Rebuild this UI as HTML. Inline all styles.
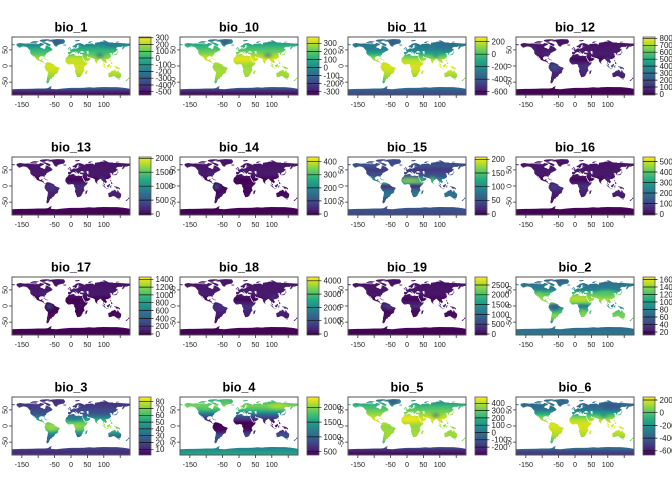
<!DOCTYPE html>
<html><head><meta charset="utf-8"><style>
html,body{margin:0;padding:0;background:#fff}
svg{display:block}
.t{font:bold 12.6px "Liberation Sans",sans-serif;text-anchor:middle;fill:#000}
.ax{font:7.2px "Liberation Sans",sans-serif;text-anchor:middle;fill:#222}
.lg{font:8px "Liberation Sans",sans-serif;fill:#222}
.bx{fill:none;stroke:#555;stroke-width:1}
.tk{stroke:#333;stroke-width:.8;fill:none}
.lb{fill:url(#vir);stroke:#555;stroke-width:.8}
.lt{stroke:#111;stroke-width:.7;fill:none}
</style></head><body>
<svg width="672" height="480" viewBox="0 0 672 480" xmlns="http://www.w3.org/2000/svg">
<defs>
<path id="land" fill-rule="evenodd" clip-rule="evenodd" d="
M-166,68.5 -156,71.3 -141,69.6 -128,70.2 -115,68 -98,68 -94,71.5 -85,69.5 -82,66 -88,64 -94,60 -93,57 -87,55.5 -82,52.5 -79,54.5 -77,60 -78,62.5 -72,62 -65,60 -61,56 -56,52 -60,47 -66,44.5 -70,42 -74,40.5 -76,37 -76,35 -81,31.5 -80.5,25.5 -82.5,28 -84,30 -89,30.2 -94,29.6 -97.5,26 -97.5,22 -95,18.6 -91,19 -90.5,21 -87,21.5 -88,16 -84,15.5 -83.5,11 -81.5,9 -79,9.5 -77.8,8.8 -78.5,8 -80,7.5 -85,10 -87.5,13 -92,14.5 -96,15.7 -105,19.5 -105.5,22.5 -109.5,26.5 -112.8,31.5 -114.5,30 -110,23 -112,24.5 -115,29.5 -117,32.5 -120.5,34.5 -123.8,39 -124.5,43 -124,46.5 -124.7,48.4 -127,50 -130,54 -134,58 -140,60 -146,61 -152,59 -156,57.5 -163,54.5 -158,58 -162,60 -165,62.5 -166,65Z
M-73,78 -60,82 -40,83.5 -22,82.5 -18,77 -21,70 -32,68 -40,65 -43,60 -48,61 -52,65 -54,70 -58,75.5 -68,76.5Z
M-88,73.5 -80,73.7 -72,71 -67,69 -62,66.5 -64,63 -66,62 -72,63.5 -78,64.5 -74,66.5 -80,69.5 -86,71Z
M-125,72.5 -120,74.5 -115,73.8 -105,73.2 -101,70.5 -108,69.3 -117,70 -123,71Z
M-120,76 -110,77.5 -100,76.5 -96,75.2 -106,75 -116,75Z
M-92,75.8 -82,75 -78,76.5 -75,78.5 -65,81 -64,82.3 -75,83 -90,82 -96,79Z
M-24,65.5 -22,66.5 -15,66.5 -13.5,65 -18,63.4 -22.5,63.8Z
M-77.3,8.5 -72,12 -64,10.5 -60,8.5 -52,5 -50,1 -44,-2.5 -35,-5.5 -35,-9 -39,-13.5 -39,-18 -41,-22 -45,-23.5 -48.5,-26 -53,-33.5 -58,-34.5 -57,-38 -62,-39 -65,-41 -63.5,-42.5 -65.5,-45 -67.5,-46.5 -66,-48 -69,-51 -68.5,-52.5 -71,-54 -74.5,-52.5 -75,-48 -73.5,-44 -73.5,-37 -71.5,-30 -70.3,-18.5 -76,-14 -79.5,-7 -81,-4.5 -80,-2 -80,1 -78.5,3 -77.5,6.5Z
M-6,35.8 -2,35.1 3,36.8 10,37.2 11,35.5 10,34.2 11,33.2 15,32.3 19.8,30.5 20,32 23,32.6 25,31.8 29,30.9 32.5,31.3 34,29.5 33.5,27 35.5,23.5 37.2,21 38.5,18 39.5,15.5 42.5,12.5 43.5,11.5 44,10.5 51,11.9 51.2,10.4 48,4.5 44,1 41,-2 39.4,-5 39,-8.5 40.5,-10.5 40.8,-15 36.8,-18.5 35.2,-21.5 35.5,-24 32.6,-26 32.5,-29 30,-31.5 27.5,-33.2 25,-34 22,-34.2 20,-34.8 18.3,-34 18,-31.5 16.5,-28.6 15.2,-27 14.5,-22.5 11.8,-17.3 12,-13.5 13.6,-11 13,-8.5 12,-6 12.2,-5 9.5,-2 9.5,1 9.8,3.5 8.5,4.5 6,4.3 4.5,6.3 2,6.3 -2,4.8 -4,5.2 -7.5,4.4 -9,5 -11.5,6.9 -13.2,8.8 -15,10.9 -17.2,14.7 -16.5,19.5 -17,21 -14.8,25.5 -13,27.7 -9.7,30 -9.5,32.5 -6.8,34Z
M49.3,-12 50.5,-15.5 49.5,-17 48,-22 47,-25 45,-25.5 43.5,-22 44.3,-20 44,-17 46,-15.7 48,-13.5Z
M-9,43 -9,37 -5.5,36 -2,36.7 0,38.5 3,42 6,43 9,44 12,42 16,38 16.5,40.5 18.5,40 15,41.9 12.5,44.5 13.5,45.5 15,45 19.5,41.5 21,38 23,36.5 24,40 26,41 29,41.2 26.5,38.5 28,36.8 36,36.5 35.5,33 34.5,31.5 34.8,29.5 35,28 38.5,22 42.5,15 43.3,12.8 45,13 52,16 55.5,17.5 58.5,21 59.8,22.5 56.5,24.5 56,26.2 51.5,24 50,26.5 48,29.5 50,30 54,27 57,27 62,25.3 67,24.7 68.8,22.5 72.8,21 73,16 76.5,8.5 78,8.2 80.2,13 80.3,15.8 82,17 86.5,20 87,21.8 89,22 91,22.5 92.3,21 94.3,18 94.2,16 97.5,16.5 98.5,10 98.5,8 100.3,5 101.5,2.8 103.5,1.3 104.2,1.6 103.4,4 103,5.6 101.3,6.9 100,8.2 99.2,10 100.1,13.5 101,12.7 103,11 104.8,8.6 106.5,9.5 109.2,11.6 109.3,13.5 108,16 106.5,17.5 105.7,19 107,21 108.5,21.7 110.5,20.4 111,21.4 113.5,22.3 117,23.5 119.5,25.5 121.5,28.3 122,30.7 121,32.3 119.5,34.5 122.5,37 120,37.6 118,38.5 118,39.2 121.5,41 122,40.5 121.2,39 124,39.8 125.3,37.8 126.6,34.5 129.4,35.5 129.5,37 128.3,39 129.7,41 130.7,42.3 133,42.8 135.5,43.8 138.2,46.5 140.2,48.5 140.5,51.5 141.4,53.2 137.8,54 136.7,55 140,57.5 143,59.3 148,59.4 155,59.3 158,61.8 160,60.8 157,57.5 156,55 156.8,51 158.5,52.9 160,54 162,56 163.3,58 163.5,59.8 166,60.2 170.7,60 173.2,61.5 177.4,62.5 179.2,62.3 180,65 180,69 177,69.8 170,70 160,70.5 152,70.8 145,72.2 140,72.5 130,71 128,72.8 120,73 113,73.8 110,76.5 104,77.7 98,76 92,75.5 88,75 86.5,73.5 80.5,73.6 80,72.5 75,72.5 72.5,71 73.5,68.5 72,66.5 70,66.8 68,68.5 66,69.5 60,69.8 56,68.5 44,68.5 43.5,66 40.5,65 37,66 41,67 32,69.5 28,71 24,71 18,69.8 14,68 11,64.5 5,62 5,59 7,58 10.5,59.3 12,56.5 14,55.5 16,56.5 17,59 19,60 17.5,62.5 21.5,65.5 24.5,65.8 25,64.8 21,62 21.5,60.5 25,60.3 30,60 28,59.5 23,59.3 24,57 21,57 21,55.5 18,54.7 14,54 11,54 10,55 10.5,57.5 8.5,57 8,55.5 8.5,54 6,53.5 4,52 2,51 1.5,50 -1.5,49.5 -4.5,48.5 -1.5,46.5 -1.5,43.5 -8,43.7Z
M28.5,42 29,45 33,46.5 37,45.5 41.5,42 36,41.7 31,41.5Z
M47,45 51,47 54,44.5 53,40 54,37 50,37 49.5,40.5 47,43Z
M-5.7,50 1.5,51.2 1.7,52.8 0,53.5 -1.5,55 -2,57 -4,58.6 -5,58.5 -6.2,56.5 -5,55.5 -3,54.8 -3.5,53.5 -4.5,52.8 -5,51.7 -3,51.5Z
M-6,52 -6,54 -7.5,55.2 -10,54 -10,51.6Z
M11,78.5 16,80 25,80.5 27,78.5 18,76.5 14,77Z
M52,71 56,70.5 62,75 68,77 58,76 54,74Z
M96,79 104,78.3 106,79.5 100,81Z
M137,75 148,75.5 146,74.3 138,73.8Z
M-180,69 -175,67.5 -170,66 -172,64.5 -180,65Z
M142,46 143.5,49 143,54 142.5,54.2 142,50Z
M130,31.5 131.5,31.5 132,34 135,33.5 137,34.5 140,35 141,38 142,40 141.5,41.5 140,40.5 139.5,38 137,37 133,35.5 131,34.5Z
M140,41.8 141.5,42.5 143.5,42 145.5,43.3 142,45.5 141.5,44Z
M120,18.5 122.2,18.5 122,14 124,12.5 126,9 126.3,6.3 125,6 122,7 123,10 121.5,14 120,16Z
M120.2,22.5 121,25.2 122,25 120.8,22Z
M109,1.5 110.5,-1.5 111,-3 114.5,-4 116.5,-3.5 116.5,-1 118,1 119,5 117,7 115.5,5 113,3.2 111,2Z
M95.3,5.6 98,4 100,1.5 103,-1 104.5,-2.5 106,-5.8 104,-5.5 101,-3 99,-0.5 97,2.5Z
M105.5,-6.8 110,-6.9 114.5,-7.8 114.5,-8.7 110,-8.2 106,-7.6Z
M119,-5.5 120.5,-5.5 121,-2.5 122.5,-4.8 123.3,-4 121.5,-1.3 123,-0.8 125,1.3 121,1 119.5,-1Z
M131,-1 134,-1 138,-1.7 141,-2.6 145,-4.3 148,-6 150.5,-10.5 147,-10 144,-7.5 141,-9 138,-8.3 137.7,-5.3 134,-3.5 132,-2.9Z
M80,9.8 81.8,7.5 81,6 80,6.5Z
M-85,22 -80,23.2 -74,20 -77.5,19.8 -81,21.6Z
M-74.5,19.8 -68.5,18.5 -71.5,17.8 -74.4,18.3Z
M113.5,-22 114,-26.5 115,-33.5 117.5,-35 120,-34 124,-33.5 126,-32.3 131,-31.5 134,-32.7 136,-34.8 137.5,-33.5 138,-35.5 140,-38 143.5,-38.8 146.3,-39 150,-37.5 153,-31 153.2,-25 150.8,-22.5 146,-18.5 145.3,-15 143.5,-14 142.5,-10.8 141.5,-13.5 141.5,-17 140,-17.7 136.5,-15.5 135.9,-13 136.9,-12.2 132.5,-11.5 130,-13 129.5,-15 127,-14 125,-15 122,-17.5 121,-19.5 117,-20.6Z
M145,-41 148.3,-41 147.5,-43.3 146,-43.5Z
M173,-34.5 175,-36.5 178.5,-37.6 176.8,-39.5 175,-41.5 174.6,-39.8 173.8,-39.2 174.5,-37.5Z
M172.7,-40.5 174.2,-41.5 173,-43.5 171,-45 169,-46.6 166.5,-46 168,-44 171,-42Z
M-180,-90 -180,-72 -160,-71.5 -150,-71 -140,-71 -120,-70.5 -100,-70 -80,-70 -70,-68.5 -64,-64 -58,-62.5 -60,-65 -62,-68.5 -60,-71 -45,-72 -35,-71 -25,-70 -15,-69 0,-68 20,-68 40,-67.5 55,-66 70,-67 80,-66 90,-65.5 100,-65 120,-65.5 140,-65.5 160,-67.5 170,-69 180,-71 180,-90Z"/>
<clipPath id="cl"><use href="#land"/></clipPath>
<filter id="bl" x="-60%" y="-60%" width="220%" height="220%"><feGaussianBlur stdDeviation="6"/></filter>
<linearGradient id="vir" x1="0" y1="0" x2="0" y2="1">
<stop offset="0" stop-color="#fde725"/><stop offset=".1" stop-color="#bddf26"/><stop offset=".2" stop-color="#7ad151"/><stop offset=".3" stop-color="#44bf70"/><stop offset=".4" stop-color="#22a884"/><stop offset=".5" stop-color="#21918c"/><stop offset=".6" stop-color="#2a788e"/><stop offset=".7" stop-color="#355f8d"/><stop offset=".8" stop-color="#414487"/><stop offset=".9" stop-color="#482475"/><stop offset="1" stop-color="#440154"/>
</linearGradient>
<linearGradient id="g1" gradientUnits="userSpaceOnUse" x1="0" y1="90" x2="0" y2="-90">
<stop offset="0" stop-color="#3e4a89"/><stop offset=".083" stop-color="#2a788e"/><stop offset=".15" stop-color="#21918c"/><stop offset=".222" stop-color="#2fb47c"/><stop offset=".278" stop-color="#4ac16d"/><stop offset=".333" stop-color="#7ad151"/><stop offset=".4" stop-color="#b5de2b"/><stop offset=".5" stop-color="#d2e21b"/><stop offset=".583" stop-color="#c8e020"/><stop offset=".667" stop-color="#9bd93c"/><stop offset=".75" stop-color="#5ec962"/><stop offset=".82" stop-color="#2a9d8a"/><stop offset=".86" stop-color="#2a788e"/><stop offset=".9" stop-color="#3e4989"/><stop offset=".944" stop-color="#482173"/><stop offset="1" stop-color="#440154"/>
</linearGradient>
<linearGradient id="g10" gradientUnits="userSpaceOnUse" x1="0" y1="90" x2="0" y2="-90">
<stop offset="0" stop-color="#3b528b"/><stop offset=".083" stop-color="#2a8f8a"/><stop offset=".15" stop-color="#2ab07f"/><stop offset=".222" stop-color="#52c569"/><stop offset=".278" stop-color="#7ad151"/><stop offset=".333" stop-color="#b5de2b"/><stop offset=".39" stop-color="#dde318"/><stop offset=".45" stop-color="#b0dd2f"/><stop offset=".5" stop-color="#95d840"/><stop offset=".583" stop-color="#a5db36"/><stop offset=".667" stop-color="#a0da39"/><stop offset=".75" stop-color="#6ece58"/><stop offset=".82" stop-color="#2a9d8a"/><stop offset=".86" stop-color="#2c728e"/><stop offset=".9" stop-color="#414487"/><stop offset=".944" stop-color="#481f70"/><stop offset="1" stop-color="#440154"/>
</linearGradient>
<linearGradient id="g11" gradientUnits="userSpaceOnUse" x1="0" y1="90" x2="0" y2="-90">
<stop offset="0" stop-color="#34618d"/><stop offset=".083" stop-color="#2c718e"/><stop offset=".15" stop-color="#2a788e"/><stop offset=".222" stop-color="#25858e"/><stop offset=".278" stop-color="#20a386"/><stop offset=".333" stop-color="#5ec962"/><stop offset=".4" stop-color="#b5de2b"/><stop offset=".5" stop-color="#d8e219"/><stop offset=".583" stop-color="#c8e020"/><stop offset=".667" stop-color="#a0da39"/><stop offset=".75" stop-color="#5ec962"/><stop offset=".82" stop-color="#25858e"/><stop offset=".86" stop-color="#2c728e"/><stop offset=".9" stop-color="#33638d"/><stop offset=".944" stop-color="#3b528b"/><stop offset="1" stop-color="#3e4989"/>
</linearGradient>
<linearGradient id="g12" gradientUnits="userSpaceOnUse" x1="0" y1="90" x2="0" y2="-90">
<stop offset="0" stop-color="#470f62"/><stop offset=".3" stop-color="#481c6e"/><stop offset=".389" stop-color="#46075a"/><stop offset=".5" stop-color="#46337e"/><stop offset=".6" stop-color="#482576"/><stop offset=".75" stop-color="#481c6e"/><stop offset=".85" stop-color="#450559"/><stop offset="1" stop-color="#440154"/>
</linearGradient>
<linearGradient id="g13" gradientUnits="userSpaceOnUse" x1="0" y1="90" x2="0" y2="-90">
<stop offset="0" stop-color="#471164"/><stop offset=".3" stop-color="#481a6c"/><stop offset=".389" stop-color="#450559"/><stop offset=".5" stop-color="#472c7a"/><stop offset=".6" stop-color="#482273"/><stop offset=".75" stop-color="#481a6c"/><stop offset=".85" stop-color="#450559"/><stop offset="1" stop-color="#440154"/>
</linearGradient>
<linearGradient id="g14" gradientUnits="userSpaceOnUse" x1="0" y1="90" x2="0" y2="-90">
<stop offset="0" stop-color="#471164"/><stop offset=".3" stop-color="#481b6d"/><stop offset=".389" stop-color="#440154"/><stop offset=".5" stop-color="#46085c"/><stop offset=".6" stop-color="#450559"/><stop offset=".75" stop-color="#481769"/><stop offset=".85" stop-color="#450457"/><stop offset="1" stop-color="#440154"/>
</linearGradient>
<linearGradient id="g15" gradientUnits="userSpaceOnUse" x1="0" y1="90" x2="0" y2="-90">
<stop offset="0" stop-color="#414487"/><stop offset=".083" stop-color="#3e4989"/><stop offset=".15" stop-color="#3b528b"/><stop offset=".222" stop-color="#453781"/><stop offset=".278" stop-color="#3e4989"/><stop offset=".333" stop-color="#3b528b"/><stop offset=".389" stop-color="#2a788e"/><stop offset=".44" stop-color="#35b779"/><stop offset=".5" stop-color="#46337e"/><stop offset=".583" stop-color="#31688e"/><stop offset=".667" stop-color="#2a788e"/><stop offset=".75" stop-color="#3e4989"/><stop offset=".82" stop-color="#3b528b"/><stop offset=".9" stop-color="#3b528b"/><stop offset="1" stop-color="#404588"/>
</linearGradient>
<linearGradient id="g16" gradientUnits="userSpaceOnUse" x1="0" y1="90" x2="0" y2="-90">
<stop offset="0" stop-color="#471164"/><stop offset=".3" stop-color="#481a6c"/><stop offset=".389" stop-color="#450559"/><stop offset=".5" stop-color="#46307e"/><stop offset=".6" stop-color="#482071"/><stop offset=".75" stop-color="#481668"/><stop offset=".85" stop-color="#450559"/><stop offset="1" stop-color="#440154"/>
</linearGradient>
<linearGradient id="g17" gradientUnits="userSpaceOnUse" x1="0" y1="90" x2="0" y2="-90">
<stop offset="0" stop-color="#471063"/><stop offset=".3" stop-color="#481a6c"/><stop offset=".389" stop-color="#440154"/><stop offset=".5" stop-color="#450559"/><stop offset=".6" stop-color="#440154"/><stop offset=".75" stop-color="#481769"/><stop offset=".85" stop-color="#450457"/><stop offset="1" stop-color="#440154"/>
</linearGradient>
<linearGradient id="g18" gradientUnits="userSpaceOnUse" x1="0" y1="90" x2="0" y2="-90">
<stop offset="0" stop-color="#471365"/><stop offset=".3" stop-color="#481c6e"/><stop offset=".389" stop-color="#450559"/><stop offset=".5" stop-color="#46307e"/><stop offset=".6" stop-color="#482173"/><stop offset=".75" stop-color="#471365"/><stop offset=".85" stop-color="#450559"/><stop offset="1" stop-color="#440154"/>
</linearGradient>
<linearGradient id="g19" gradientUnits="userSpaceOnUse" x1="0" y1="90" x2="0" y2="-90">
<stop offset="0" stop-color="#471063"/><stop offset=".3" stop-color="#481769"/><stop offset=".389" stop-color="#450559"/><stop offset=".5" stop-color="#472c7a"/><stop offset=".6" stop-color="#46075a"/><stop offset=".75" stop-color="#481769"/><stop offset=".85" stop-color="#450559"/><stop offset="1" stop-color="#440154"/>
</linearGradient>
<linearGradient id="g2" gradientUnits="userSpaceOnUse" x1="0" y1="90" x2="0" y2="-90">
<stop offset="0" stop-color="#3b528b"/><stop offset=".111" stop-color="#2c728e"/><stop offset=".167" stop-color="#2a788e"/><stop offset=".222" stop-color="#25858e"/><stop offset=".278" stop-color="#44bf70"/><stop offset=".333" stop-color="#7ad151"/><stop offset=".389" stop-color="#a8db34"/><stop offset=".444" stop-color="#6ece58"/><stop offset=".5" stop-color="#2a788e"/><stop offset=".583" stop-color="#35b779"/><stop offset=".667" stop-color="#86d549"/><stop offset=".722" stop-color="#5ec962"/><stop offset=".8" stop-color="#2a788e"/><stop offset=".86" stop-color="#31688e"/><stop offset=".92" stop-color="#2c728e"/><stop offset="1" stop-color="#2a788e"/>
</linearGradient>
<linearGradient id="g3" gradientUnits="userSpaceOnUse" x1="0" y1="90" x2="0" y2="-90">
<stop offset="0" stop-color="#472c7a"/><stop offset=".111" stop-color="#46337e"/><stop offset=".2" stop-color="#414487"/><stop offset=".278" stop-color="#3b528b"/><stop offset=".333" stop-color="#2c728e"/><stop offset=".389" stop-color="#22a884"/><stop offset=".444" stop-color="#5ec962"/><stop offset=".5" stop-color="#86d549"/><stop offset=".556" stop-color="#5ec962"/><stop offset=".611" stop-color="#2a9d8a"/><stop offset=".667" stop-color="#2c728e"/><stop offset=".75" stop-color="#31688e"/><stop offset=".82" stop-color="#3b528b"/><stop offset=".88" stop-color="#414487"/><stop offset=".94" stop-color="#472d7b"/><stop offset="1" stop-color="#46307e"/>
</linearGradient>
<linearGradient id="g4" gradientUnits="userSpaceOnUse" x1="0" y1="90" x2="0" y2="-90">
<stop offset="0" stop-color="#2a9d8a"/><stop offset=".083" stop-color="#35b779"/><stop offset=".15" stop-color="#7ad151"/><stop offset=".222" stop-color="#3aba76"/><stop offset=".278" stop-color="#25858e"/><stop offset=".333" stop-color="#3b528b"/><stop offset=".389" stop-color="#46307e"/><stop offset=".444" stop-color="#440154"/><stop offset=".5" stop-color="#440154"/><stop offset=".556" stop-color="#46085c"/><stop offset=".611" stop-color="#472d7b"/><stop offset=".667" stop-color="#3b528b"/><stop offset=".722" stop-color="#3e4989"/><stop offset=".8" stop-color="#2c728e"/><stop offset=".86" stop-color="#2a788e"/><stop offset=".92" stop-color="#21918c"/><stop offset="1" stop-color="#25ab82"/>
</linearGradient>
<linearGradient id="g5" gradientUnits="userSpaceOnUse" x1="0" y1="90" x2="0" y2="-90">
<stop offset="0" stop-color="#3b528b"/><stop offset=".083" stop-color="#2a8f8a"/><stop offset=".15" stop-color="#35b779"/><stop offset=".222" stop-color="#5ec962"/><stop offset=".278" stop-color="#86d549"/><stop offset=".333" stop-color="#b5de2b"/><stop offset=".389" stop-color="#e2e418"/><stop offset=".45" stop-color="#b5de2b"/><stop offset=".5" stop-color="#8fd744"/><stop offset=".583" stop-color="#9bd93c"/><stop offset=".667" stop-color="#a0da39"/><stop offset=".75" stop-color="#6ece58"/><stop offset=".82" stop-color="#2a8f8a"/><stop offset=".86" stop-color="#31688e"/><stop offset=".9" stop-color="#46337e"/><stop offset=".944" stop-color="#481a6c"/><stop offset="1" stop-color="#440154"/>
</linearGradient>
<linearGradient id="g6" gradientUnits="userSpaceOnUse" x1="0" y1="90" x2="0" y2="-90">
<stop offset="0" stop-color="#33638d"/><stop offset=".083" stop-color="#2c728e"/><stop offset=".15" stop-color="#31688e"/><stop offset=".222" stop-color="#2a788e"/><stop offset=".278" stop-color="#20a386"/><stop offset=".333" stop-color="#5ec962"/><stop offset=".389" stop-color="#a8db34"/><stop offset=".444" stop-color="#d0e11c"/><stop offset=".5" stop-color="#d8e219"/><stop offset=".583" stop-color="#c8e020"/><stop offset=".667" stop-color="#a8db34"/><stop offset=".75" stop-color="#5ec962"/><stop offset=".82" stop-color="#21918c"/><stop offset=".86" stop-color="#2a788e"/><stop offset=".9" stop-color="#33638d"/><stop offset=".944" stop-color="#414487"/><stop offset="1" stop-color="#46337e"/>
</linearGradient>
</defs>
<rect width="672" height="480" fill="#fff"/>

<!-- Row 0 -->
<g transform="translate(0,0)">
<text class="t" x="71" y="31.5">bio_1</text>
<g transform="translate(12,37) scale(.32778,.32222) translate(180,90) scale(1,-1)">
<use href="#land" fill="url(#g1)"/>
<g clip-path="url(#cl)"><g filter="url(#bl)">
<ellipse cx="88" cy="33" rx="12" ry="6" fill="#2c728e"/><ellipse cx="-42" cy="74" rx="13" ry="9" fill="#3b528b"/><ellipse cx="10" cy="22" rx="28" ry="8" fill="#dde318" opacity=".7"/><ellipse cx="130" cy="66" rx="30" ry="9" fill="#2c728e" opacity=".7"/><ellipse cx="-100" cy="72" rx="25" ry="6" fill="#2c728e" opacity=".6"/>
</g></g></g>
<rect class="bx" x="12" y="37" width="118" height="58"/>
<path class="tk" d="M21.8,95v3M38.2,95v3M54.6,95v3M71,95v3M87.4,95v3M103.8,95v3M120.2,95v3M12,49.9h-3M12,66h-3M12,82.1h-3"/>
<text class="ax" x="21.8" y="107.2">-150</text><text class="ax" x="54.6" y="107.2">-50</text><text class="ax" x="71" y="107.2">0</text><text class="ax" x="87.4" y="107.2">50</text><text class="ax" x="103.8" y="107.2">100</text>
<text class="ax" transform="translate(7.3,49.9) rotate(-90)">50</text><text class="ax" transform="translate(7.3,66) rotate(-90)">0</text><text class="ax" transform="translate(7.3,82.1) rotate(-90)">-50</text>
<rect class="lb" x="139" y="37" width="12" height="58"/>
<path class="lt" d="M139,37.8h14.5M139,44.5h14.5M139,51.3h14.5M139,58h14.5M139,64.8h14.5M139,71.5h14.5M139,78.2h14.5M139,85h14.5M139,91.7h14.5"/>
<text class="lg" x="155.5" y="40.7">300</text><text class="lg" x="155.5" y="47.4">200</text><text class="lg" x="155.5" y="54.2">100</text><text class="lg" x="155.5" y="60.9">0</text><text class="lg" x="155.5" y="67.7">-100</text><text class="lg" x="155.5" y="74.4">-200</text><text class="lg" x="155.5" y="81.1">-300</text><text class="lg" x="155.5" y="87.9">-400</text><text class="lg" x="155.5" y="94.6">-500</text>
</g>

<g transform="translate(168,0)">
<text class="t" x="71" y="31.5">bio_10</text>
<g transform="translate(12,37) scale(.32778,.32222) translate(180,90) scale(1,-1)">
<use href="#land" fill="url(#g10)"/>
<g clip-path="url(#cl)"><g filter="url(#bl)">
<ellipse cx="88" cy="33" rx="12" ry="6" fill="#31688e" opacity=".8"/><ellipse cx="-42" cy="74" rx="13" ry="9" fill="#3b528b"/><ellipse cx="15" cy="24" rx="30" ry="8" fill="#e8e419" opacity=".8"/>
</g></g></g>
<rect class="bx" x="12" y="37" width="118" height="58"/>
<path class="tk" d="M21.8,95v3M38.2,95v3M54.6,95v3M71,95v3M87.4,95v3M103.8,95v3M120.2,95v3M12,49.9h-3M12,66h-3M12,82.1h-3"/>
<text class="ax" x="21.8" y="107.2">-150</text><text class="ax" x="54.6" y="107.2">-50</text><text class="ax" x="71" y="107.2">0</text><text class="ax" x="87.4" y="107.2">50</text><text class="ax" x="103.8" y="107.2">100</text>
<text class="ax" transform="translate(7.3,49.9) rotate(-90)">50</text><text class="ax" transform="translate(7.3,66) rotate(-90)">0</text><text class="ax" transform="translate(7.3,82.1) rotate(-90)">-50</text>
<rect class="lb" x="139" y="37" width="12" height="58"/>
<path class="lt" d="M139,43.3h14.5M139,51.4h14.5M139,59.4h14.5M139,67.5h14.5M139,75.6h14.5M139,83.6h14.5M139,91.7h14.5"/>
<text class="lg" x="155.5" y="46.2">300</text><text class="lg" x="155.5" y="54.3">200</text><text class="lg" x="155.5" y="62.3">100</text><text class="lg" x="155.5" y="70.4">0</text><text class="lg" x="155.5" y="78.5">-100</text><text class="lg" x="155.5" y="86.5">-200</text><text class="lg" x="155.5" y="94.6">-300</text>
</g>

<g transform="translate(336,0)">
<text class="t" x="71" y="31.5">bio_11</text>
<g transform="translate(12,37) scale(.32778,.32222) translate(180,90) scale(1,-1)">
<use href="#land" fill="url(#g11)"/>
<g clip-path="url(#cl)"><g filter="url(#bl)">
<ellipse cx="120" cy="63" rx="30" ry="10" fill="#31688e" opacity=".8"/><ellipse cx="-42" cy="74" rx="13" ry="9" fill="#3b528b"/><ellipse cx="88" cy="33" rx="10" ry="5" fill="#2a788e"/>
</g></g></g>
<rect class="bx" x="12" y="37" width="118" height="58"/>
<path class="tk" d="M21.8,95v3M38.2,95v3M54.6,95v3M71,95v3M87.4,95v3M103.8,95v3M120.2,95v3M12,49.9h-3M12,66h-3M12,82.1h-3"/>
<text class="ax" x="21.8" y="107.2">-150</text><text class="ax" x="54.6" y="107.2">-50</text><text class="ax" x="71" y="107.2">0</text><text class="ax" x="87.4" y="107.2">50</text><text class="ax" x="103.8" y="107.2">100</text>
<text class="ax" transform="translate(7.3,49.9) rotate(-90)">50</text><text class="ax" transform="translate(7.3,66) rotate(-90)">0</text><text class="ax" transform="translate(7.3,82.1) rotate(-90)">-50</text>
<rect class="lb" x="139" y="37" width="12" height="58"/>
<path class="lt" d="M139,41.7h14.5M139,54.2h14.5M139,66.7h14.5M139,79.2h14.5M139,91.7h14.5"/>
<text class="lg" x="155.5" y="44.6">200</text><text class="lg" x="155.5" y="57.1">0</text><text class="lg" x="155.5" y="69.6">-200</text><text class="lg" x="155.5" y="82.1">-400</text><text class="lg" x="155.5" y="94.6">-600</text>
</g>

<g transform="translate(504,0)">
<text class="t" x="71" y="31.5">bio_12</text>
<g transform="translate(12,37) scale(.32778,.32222) translate(180,90) scale(1,-1)">
<use href="#land" fill="url(#g12)"/>
<g clip-path="url(#cl)"><g filter="url(#bl)">
<ellipse cx="-62" cy="-4" rx="14" ry="10" fill="#3b528b" opacity=".85"/><ellipse cx="120" cy="-3" rx="22" ry="7" fill="#31688e" opacity=".85"/><ellipse cx="100" cy="18" rx="10" ry="8" fill="#433e85"/><ellipse cx="-85" cy="36" rx="10" ry="7" fill="#482878"/><ellipse cx="-73" cy="-45" rx="3" ry="6" fill="#3e4989"/><ellipse cx="-128" cy="53" rx="4" ry="6" fill="#3e4989"/><ellipse cx="-8" cy="8" rx="6" ry="4" fill="#453781"/>
</g></g></g>
<rect class="bx" x="12" y="37" width="118" height="58"/>
<path class="tk" d="M21.8,95v3M38.2,95v3M54.6,95v3M71,95v3M87.4,95v3M103.8,95v3M120.2,95v3M12,49.9h-3M12,66h-3M12,82.1h-3"/>
<text class="ax" x="21.8" y="107.2">-150</text><text class="ax" x="54.6" y="107.2">-50</text><text class="ax" x="71" y="107.2">0</text><text class="ax" x="87.4" y="107.2">50</text><text class="ax" x="103.8" y="107.2">100</text>
<text class="ax" transform="translate(7.3,49.9) rotate(-90)">50</text><text class="ax" transform="translate(7.3,66) rotate(-90)">0</text><text class="ax" transform="translate(7.3,82.1) rotate(-90)">-50</text>
<rect class="lb" x="139" y="37" width="12" height="58"/>
<path class="lt" d="M139,38.3h14.5M139,45.3h14.5M139,52.2h14.5M139,59.2h14.5M139,66.1h14.5M139,73.1h14.5M139,80.1h14.5M139,87h14.5M139,94h14.5"/>
<text class="lg" x="155.5" y="41.2">800</text><text class="lg" x="155.5" y="48.2">700</text><text class="lg" x="155.5" y="55.1">600</text><text class="lg" x="155.5" y="62.1">500</text><text class="lg" x="155.5" y="69">400</text><text class="lg" x="155.5" y="76">300</text><text class="lg" x="155.5" y="83">200</text><text class="lg" x="155.5" y="89.9">100</text><text class="lg" x="155.5" y="96.9">0</text>
</g>

<!-- Row 1 -->
<g transform="translate(0,120)">
<text class="t" x="71" y="31.5">bio_13</text>
<g transform="translate(12,37) scale(.32778,.32222) translate(180,90) scale(1,-1)">
<use href="#land" fill="url(#g13)"/>
<g clip-path="url(#cl)"><g filter="url(#bl)">
<ellipse cx="-62" cy="-4" rx="14" ry="10" fill="#46337e"/><ellipse cx="95" cy="20" rx="12" ry="8" fill="#453882"/><ellipse cx="120" cy="-2" rx="20" ry="6" fill="#423f85"/>
</g></g></g>
<rect class="bx" x="12" y="37" width="118" height="58"/>
<path class="tk" d="M21.8,95v3M38.2,95v3M54.6,95v3M71,95v3M87.4,95v3M103.8,95v3M120.2,95v3M12,49.9h-3M12,66h-3M12,82.1h-3"/>
<text class="ax" x="21.8" y="107.2">-150</text><text class="ax" x="54.6" y="107.2">-50</text><text class="ax" x="71" y="107.2">0</text><text class="ax" x="87.4" y="107.2">50</text><text class="ax" x="103.8" y="107.2">100</text>
<text class="ax" transform="translate(7.3,49.9) rotate(-90)">50</text><text class="ax" transform="translate(7.3,66) rotate(-90)">0</text><text class="ax" transform="translate(7.3,82.1) rotate(-90)">-50</text>
<rect class="lb" x="139" y="37" width="12" height="58"/>
<path class="lt" d="M139,38.3h14.5M139,52.2h14.5M139,66.2h14.5M139,80.1h14.5M139,94h14.5"/>
<text class="lg" x="155.5" y="41.2">2000</text><text class="lg" x="155.5" y="55.1">1500</text><text class="lg" x="155.5" y="69.1">1000</text><text class="lg" x="155.5" y="83">500</text><text class="lg" x="155.5" y="96.9">0</text>
</g>

<g transform="translate(168,120)">
<text class="t" x="71" y="31.5">bio_14</text>
<g transform="translate(12,37) scale(.32778,.32222) translate(180,90) scale(1,-1)">
<use href="#land" fill="url(#g14)"/>
<g clip-path="url(#cl)"><g filter="url(#bl)">
<ellipse cx="-68" cy="-2" rx="10" ry="8" fill="#2c728e" opacity=".8"/><ellipse cx="118" cy="-1" rx="16" ry="5" fill="#2a788e" opacity=".8"/><ellipse cx="-85" cy="38" rx="10" ry="6" fill="#482677"/><ellipse cx="10" cy="50" rx="14" ry="6" fill="#482173"/><ellipse cx="138" cy="37" rx="4" ry="4" fill="#3e4989"/><ellipse cx="-50" cy="-25" rx="6" ry="4" fill="#46327e"/>
</g></g></g>
<rect class="bx" x="12" y="37" width="118" height="58"/>
<path class="tk" d="M21.8,95v3M38.2,95v3M54.6,95v3M71,95v3M87.4,95v3M103.8,95v3M120.2,95v3M12,49.9h-3M12,66h-3M12,82.1h-3"/>
<text class="ax" x="21.8" y="107.2">-150</text><text class="ax" x="54.6" y="107.2">-50</text><text class="ax" x="71" y="107.2">0</text><text class="ax" x="87.4" y="107.2">50</text><text class="ax" x="103.8" y="107.2">100</text>
<text class="ax" transform="translate(7.3,49.9) rotate(-90)">50</text><text class="ax" transform="translate(7.3,66) rotate(-90)">0</text><text class="ax" transform="translate(7.3,82.1) rotate(-90)">-50</text>
<rect class="lb" x="139" y="37" width="12" height="58"/>
<path class="lt" d="M139,41.7h14.5M139,54.8h14.5M139,67.9h14.5M139,80.9h14.5M139,94h14.5"/>
<text class="lg" x="155.5" y="44.6">400</text><text class="lg" x="155.5" y="57.7">300</text><text class="lg" x="155.5" y="70.8">200</text><text class="lg" x="155.5" y="83.8">100</text><text class="lg" x="155.5" y="96.9">0</text>
</g>

<g transform="translate(336,120)">
<text class="t" x="71" y="31.5">bio_15</text>
<g transform="translate(12,37) scale(.32778,.32222) translate(180,90) scale(1,-1)">
<use href="#land" fill="url(#g15)"/>
<g clip-path="url(#cl)"><g filter="url(#bl)">
<ellipse cx="10" cy="18" rx="32" ry="5" fill="#a8db34"/><ellipse cx="10" cy="27" rx="25" ry="4" fill="#2a788e" opacity=".7"/><ellipse cx="78" cy="20" rx="9" ry="8" fill="#4ac16d"/><ellipse cx="45" cy="22" rx="8" ry="6" fill="#44bf70"/><ellipse cx="-103" cy="22" rx="6" ry="5" fill="#2a9d8a"/><ellipse cx="100" cy="20" rx="8" ry="6" fill="#2a788e"/><ellipse cx="20" cy="0" rx="12" ry="6" fill="#46337e"/><ellipse cx="25" cy="-20" rx="8" ry="6" fill="#2a788e"/>
</g></g></g>
<rect class="bx" x="12" y="37" width="118" height="58"/>
<path class="tk" d="M21.8,95v3M38.2,95v3M54.6,95v3M71,95v3M87.4,95v3M103.8,95v3M120.2,95v3M12,49.9h-3M12,66h-3M12,82.1h-3"/>
<text class="ax" x="21.8" y="107.2">-150</text><text class="ax" x="54.6" y="107.2">-50</text><text class="ax" x="71" y="107.2">0</text><text class="ax" x="87.4" y="107.2">50</text><text class="ax" x="103.8" y="107.2">100</text>
<text class="ax" transform="translate(7.3,49.9) rotate(-90)">50</text><text class="ax" transform="translate(7.3,66) rotate(-90)">0</text><text class="ax" transform="translate(7.3,82.1) rotate(-90)">-50</text>
<rect class="lb" x="139" y="37" width="12" height="58"/>
<path class="lt" d="M139,39.3h14.5M139,53h14.5M139,66.7h14.5M139,80.3h14.5M139,94h14.5"/>
<text class="lg" x="155.5" y="42.2">200</text><text class="lg" x="155.5" y="55.9">150</text><text class="lg" x="155.5" y="69.6">100</text><text class="lg" x="155.5" y="83.2">50</text><text class="lg" x="155.5" y="96.9">0</text>
</g>

<g transform="translate(504,120)">
<text class="t" x="71" y="31.5">bio_16</text>
<g transform="translate(12,37) scale(.32778,.32222) translate(180,90) scale(1,-1)">
<use href="#land" fill="url(#g16)"/>
<g clip-path="url(#cl)"><g filter="url(#bl)">
<ellipse cx="-62" cy="-4" rx="14" ry="10" fill="#453781"/><ellipse cx="100" cy="20" rx="10" ry="8" fill="#46337e"/>
</g></g></g>
<rect class="bx" x="12" y="37" width="118" height="58"/>
<path class="tk" d="M21.8,95v3M38.2,95v3M54.6,95v3M71,95v3M87.4,95v3M103.8,95v3M120.2,95v3M12,49.9h-3M12,66h-3M12,82.1h-3"/>
<text class="ax" x="21.8" y="107.2">-150</text><text class="ax" x="54.6" y="107.2">-50</text><text class="ax" x="71" y="107.2">0</text><text class="ax" x="87.4" y="107.2">50</text><text class="ax" x="103.8" y="107.2">100</text>
<text class="ax" transform="translate(7.3,49.9) rotate(-90)">50</text><text class="ax" transform="translate(7.3,66) rotate(-90)">0</text><text class="ax" transform="translate(7.3,82.1) rotate(-90)">-50</text>
<rect class="lb" x="139" y="37" width="12" height="58"/>
<path class="lt" d="M139,41.5h14.5M139,52h14.5M139,62.5h14.5M139,73h14.5M139,83.5h14.5M139,94h14.5"/>
<text class="lg" x="155.5" y="44.4">500</text><text class="lg" x="155.5" y="54.9">400</text><text class="lg" x="155.5" y="65.4">300</text><text class="lg" x="155.5" y="75.9">200</text><text class="lg" x="155.5" y="86.4">100</text><text class="lg" x="155.5" y="96.9">0</text>
</g>

<!-- Row 2 -->
<g transform="translate(0,240)">
<text class="t" x="71" y="31.5">bio_17</text>
<g transform="translate(12,37) scale(.32778,.32222) translate(180,90) scale(1,-1)">
<use href="#land" fill="url(#g17)"/>
<g clip-path="url(#cl)"><g filter="url(#bl)">
<ellipse cx="-66" cy="-2" rx="10" ry="7" fill="#2c728e" opacity=".8"/><ellipse cx="115" cy="0" rx="15" ry="5" fill="#2a788e" opacity=".8"/><ellipse cx="-85" cy="38" rx="10" ry="6" fill="#482576"/><ellipse cx="10" cy="50" rx="14" ry="6" fill="#482071"/><ellipse cx="-50" cy="-25" rx="6" ry="4" fill="#46327e"/>
</g></g></g>
<rect class="bx" x="12" y="37" width="118" height="58"/>
<path class="tk" d="M21.8,95v3M38.2,95v3M54.6,95v3M71,95v3M87.4,95v3M103.8,95v3M120.2,95v3M12,49.9h-3M12,66h-3M12,82.1h-3"/>
<text class="ax" x="21.8" y="107.2">-150</text><text class="ax" x="54.6" y="107.2">-50</text><text class="ax" x="71" y="107.2">0</text><text class="ax" x="87.4" y="107.2">50</text><text class="ax" x="103.8" y="107.2">100</text>
<text class="ax" transform="translate(7.3,49.9) rotate(-90)">50</text><text class="ax" transform="translate(7.3,66) rotate(-90)">0</text><text class="ax" transform="translate(7.3,82.1) rotate(-90)">-50</text>
<rect class="lb" x="139" y="37" width="12" height="58"/>
<path class="lt" d="M139,39.3h14.5M139,47.1h14.5M139,54.9h14.5M139,62.7h14.5M139,70.6h14.5M139,78.4h14.5M139,86.2h14.5M139,94h14.5"/>
<text class="lg" x="155.5" y="42.2">1400</text><text class="lg" x="155.5" y="50">1200</text><text class="lg" x="155.5" y="57.8">1000</text><text class="lg" x="155.5" y="65.6">800</text><text class="lg" x="155.5" y="73.5">600</text><text class="lg" x="155.5" y="81.3">400</text><text class="lg" x="155.5" y="89.1">200</text><text class="lg" x="155.5" y="96.9">0</text>
</g>

<g transform="translate(168,240)">
<text class="t" x="71" y="31.5">bio_18</text>
<g transform="translate(12,37) scale(.32778,.32222) translate(180,90) scale(1,-1)">
<use href="#land" fill="url(#g18)"/>
<g clip-path="url(#cl)"><g filter="url(#bl)">
<ellipse cx="105" cy="25" rx="12" ry="8" fill="#46337e"/><ellipse cx="80" cy="22" rx="6" ry="6" fill="#46337e"/><ellipse cx="-62" cy="-5" rx="14" ry="9" fill="#472d7b"/>
</g></g></g>
<rect class="bx" x="12" y="37" width="118" height="58"/>
<path class="tk" d="M21.8,95v3M38.2,95v3M54.6,95v3M71,95v3M87.4,95v3M103.8,95v3M120.2,95v3M12,49.9h-3M12,66h-3M12,82.1h-3"/>
<text class="ax" x="21.8" y="107.2">-150</text><text class="ax" x="54.6" y="107.2">-50</text><text class="ax" x="71" y="107.2">0</text><text class="ax" x="87.4" y="107.2">50</text><text class="ax" x="103.8" y="107.2">100</text>
<text class="ax" transform="translate(7.3,49.9) rotate(-90)">50</text><text class="ax" transform="translate(7.3,66) rotate(-90)">0</text><text class="ax" transform="translate(7.3,82.1) rotate(-90)">-50</text>
<rect class="lb" x="139" y="37" width="12" height="58"/>
<path class="lt" d="M139,40.8h14.5M139,54.1h14.5M139,67.4h14.5M139,80.7h14.5M139,94h14.5"/>
<text class="lg" x="155.5" y="43.7">4000</text><text class="lg" x="155.5" y="57">3000</text><text class="lg" x="155.5" y="70.3">2000</text><text class="lg" x="155.5" y="83.6">1000</text><text class="lg" x="155.5" y="96.9">0</text>
</g>

<g transform="translate(336,240)">
<text class="t" x="71" y="31.5">bio_19</text>
<g transform="translate(12,37) scale(.32778,.32222) translate(180,90) scale(1,-1)">
<use href="#land" fill="url(#g19)"/>
<g clip-path="url(#cl)"><g filter="url(#bl)">
<ellipse cx="-55" cy="-3" rx="10" ry="6" fill="#414487" opacity=".85"/><ellipse cx="115" cy="0" rx="15" ry="5" fill="#443983"/><ellipse cx="0" cy="50" rx="10" ry="6" fill="#482475"/><ellipse cx="-128" cy="53" rx="4" ry="6" fill="#46307e"/>
</g></g></g>
<rect class="bx" x="12" y="37" width="118" height="58"/>
<path class="tk" d="M21.8,95v3M38.2,95v3M54.6,95v3M71,95v3M87.4,95v3M103.8,95v3M120.2,95v3M12,49.9h-3M12,66h-3M12,82.1h-3"/>
<text class="ax" x="21.8" y="107.2">-150</text><text class="ax" x="54.6" y="107.2">-50</text><text class="ax" x="71" y="107.2">0</text><text class="ax" x="87.4" y="107.2">50</text><text class="ax" x="103.8" y="107.2">100</text>
<text class="ax" transform="translate(7.3,49.9) rotate(-90)">50</text><text class="ax" transform="translate(7.3,66) rotate(-90)">0</text><text class="ax" transform="translate(7.3,82.1) rotate(-90)">-50</text>
<rect class="lb" x="139" y="37" width="12" height="58"/>
<path class="lt" d="M139,45h14.5M139,54.8h14.5M139,64.6h14.5M139,74.4h14.5M139,84.2h14.5M139,94h14.5"/>
<text class="lg" x="155.5" y="47.9">2500</text><text class="lg" x="155.5" y="57.7">2000</text><text class="lg" x="155.5" y="67.5">1500</text><text class="lg" x="155.5" y="77.3">1000</text><text class="lg" x="155.5" y="87.1">500</text><text class="lg" x="155.5" y="96.9">0</text>
</g>

<g transform="translate(504,240)">
<text class="t" x="71" y="31.5">bio_2</text>
<g transform="translate(12,37) scale(.32778,.32222) translate(180,90) scale(1,-1)">
<use href="#land" fill="url(#g2)"/>
<g clip-path="url(#cl)"><g filter="url(#bl)">
<ellipse cx="-62" cy="-5" rx="12" ry="9" fill="#3e4989" opacity=".8"/><ellipse cx="22" cy="0" rx="10" ry="5" fill="#25858e"/><ellipse cx="95" cy="40" rx="25" ry="8" fill="#52c569"/><ellipse cx="10" cy="24" rx="25" ry="8" fill="#c2df23" opacity=".8"/><ellipse cx="-110" cy="35" rx="10" ry="7" fill="#7ad151"/><ellipse cx="115" cy="-2" rx="15" ry="5" fill="#2a788e"/><ellipse cx="25" cy="-20" rx="8" ry="6" fill="#a0da39"/><ellipse cx="135" cy="-25" rx="15" ry="8" fill="#6ece58"/>
</g></g></g>
<rect class="bx" x="12" y="37" width="118" height="58"/>
<path class="tk" d="M21.8,95v3M38.2,95v3M54.6,95v3M71,95v3M87.4,95v3M103.8,95v3M120.2,95v3M12,49.9h-3M12,66h-3M12,82.1h-3"/>
<text class="ax" x="21.8" y="107.2">-150</text><text class="ax" x="54.6" y="107.2">-50</text><text class="ax" x="71" y="107.2">0</text><text class="ax" x="87.4" y="107.2">50</text><text class="ax" x="103.8" y="107.2">100</text>
<text class="ax" transform="translate(7.3,49.9) rotate(-90)">50</text><text class="ax" transform="translate(7.3,66) rotate(-90)">0</text><text class="ax" transform="translate(7.3,82.1) rotate(-90)">-50</text>
<rect class="lb" x="139" y="37" width="12" height="58"/>
<path class="lt" d="M139,39.5h14.5M139,47h14.5M139,54.5h14.5M139,62h14.5M139,69.5h14.5M139,77h14.5M139,84.5h14.5M139,92h14.5"/>
<text class="lg" x="155.5" y="42.4">160</text><text class="lg" x="155.5" y="49.9">140</text><text class="lg" x="155.5" y="57.4">120</text><text class="lg" x="155.5" y="64.9">100</text><text class="lg" x="155.5" y="72.4">80</text><text class="lg" x="155.5" y="79.9">60</text><text class="lg" x="155.5" y="87.4">40</text><text class="lg" x="155.5" y="94.9">20</text>
</g>

<!-- Row 3 -->
<g transform="translate(0,360)">
<text class="t" x="71" y="31.5">bio_3</text>
<g transform="translate(12,37) scale(.32778,.32222) translate(180,90) scale(1,-1)">
<use href="#land" fill="url(#g3)"/>
<g clip-path="url(#cl)"><g filter="url(#bl)">
<ellipse cx="-60" cy="-5" rx="14" ry="10" fill="#a0da39" opacity=".85"/><ellipse cx="20" cy="-2" rx="10" ry="6" fill="#9bd93c" opacity=".85"/><ellipse cx="115" cy="0" rx="15" ry="5" fill="#c2df23"/><ellipse cx="10" cy="24" rx="25" ry="6" fill="#2c728e"/>
</g></g></g>
<rect class="bx" x="12" y="37" width="118" height="58"/>
<path class="tk" d="M21.8,95v3M38.2,95v3M54.6,95v3M71,95v3M87.4,95v3M103.8,95v3M120.2,95v3M12,49.9h-3M12,66h-3M12,82.1h-3"/>
<text class="ax" x="21.8" y="107.2">-150</text><text class="ax" x="54.6" y="107.2">-50</text><text class="ax" x="71" y="107.2">0</text><text class="ax" x="87.4" y="107.2">50</text><text class="ax" x="103.8" y="107.2">100</text>
<text class="ax" transform="translate(7.3,49.9) rotate(-90)">50</text><text class="ax" transform="translate(7.3,66) rotate(-90)">0</text><text class="ax" transform="translate(7.3,82.1) rotate(-90)">-50</text>
<rect class="lb" x="139" y="37" width="12" height="58"/>
<path class="lt" d="M139,41.7h14.5M139,48.5h14.5M139,55.3h14.5M139,62.1h14.5M139,68.9h14.5M139,75.7h14.5M139,82.5h14.5M139,89.3h14.5"/>
<text class="lg" x="155.5" y="44.6">80</text><text class="lg" x="155.5" y="51.4">70</text><text class="lg" x="155.5" y="58.2">60</text><text class="lg" x="155.5" y="65">50</text><text class="lg" x="155.5" y="71.8">40</text><text class="lg" x="155.5" y="78.6">30</text><text class="lg" x="155.5" y="85.4">20</text><text class="lg" x="155.5" y="92.2">10</text>
</g>

<g transform="translate(168,360)">
<text class="t" x="71" y="31.5">bio_4</text>
<g transform="translate(12,37) scale(.32778,.32222) translate(180,90) scale(1,-1)">
<use href="#land" fill="url(#g4)"/>
<g clip-path="url(#cl)"><g filter="url(#bl)">
<ellipse cx="120" cy="62" rx="30" ry="8" fill="#b5de2b" opacity=".9"/><ellipse cx="-100" cy="60" rx="15" ry="8" fill="#5ec962"/><ellipse cx="-40" cy="75" rx="14" ry="8" fill="#6ece58" opacity=".7"/><ellipse cx="-60" cy="-5" rx="14" ry="10" fill="#440154"/><ellipse cx="135" cy="-25" rx="15" ry="8" fill="#3b528b"/>
</g></g></g>
<rect class="bx" x="12" y="37" width="118" height="58"/>
<path class="tk" d="M21.8,95v3M38.2,95v3M54.6,95v3M71,95v3M87.4,95v3M103.8,95v3M120.2,95v3M12,49.9h-3M12,66h-3M12,82.1h-3"/>
<text class="ax" x="21.8" y="107.2">-150</text><text class="ax" x="54.6" y="107.2">-50</text><text class="ax" x="71" y="107.2">0</text><text class="ax" x="87.4" y="107.2">50</text><text class="ax" x="103.8" y="107.2">100</text>
<text class="ax" transform="translate(7.3,49.9) rotate(-90)">50</text><text class="ax" transform="translate(7.3,66) rotate(-90)">0</text><text class="ax" transform="translate(7.3,82.1) rotate(-90)">-50</text>
<rect class="lb" x="139" y="37" width="12" height="58"/>
<path class="lt" d="M139,47.3h14.5M139,62.1h14.5M139,76.9h14.5M139,91.7h14.5"/>
<text class="lg" x="155.5" y="50.2">2000</text><text class="lg" x="155.5" y="65">1500</text><text class="lg" x="155.5" y="79.8">1000</text><text class="lg" x="155.5" y="94.6">500</text>
</g>

<g transform="translate(336,360)">
<text class="t" x="71" y="31.5">bio_5</text>
<g transform="translate(12,37) scale(.32778,.32222) translate(180,90) scale(1,-1)">
<use href="#land" fill="url(#g5)"/>
<g clip-path="url(#cl)"><g filter="url(#bl)">
<ellipse cx="88" cy="33" rx="12" ry="6" fill="#31688e" opacity=".8"/><ellipse cx="-42" cy="74" rx="13" ry="9" fill="#3b528b"/><ellipse cx="10" cy="23" rx="25" ry="8" fill="#f0e51d"/>
</g></g></g>
<rect class="bx" x="12" y="37" width="118" height="58"/>
<path class="tk" d="M21.8,95v3M38.2,95v3M54.6,95v3M71,95v3M87.4,95v3M103.8,95v3M120.2,95v3M12,49.9h-3M12,66h-3M12,82.1h-3"/>
<text class="ax" x="21.8" y="107.2">-150</text><text class="ax" x="54.6" y="107.2">-50</text><text class="ax" x="71" y="107.2">0</text><text class="ax" x="87.4" y="107.2">50</text><text class="ax" x="103.8" y="107.2">100</text>
<text class="ax" transform="translate(7.3,49.9) rotate(-90)">50</text><text class="ax" transform="translate(7.3,66) rotate(-90)">0</text><text class="ax" transform="translate(7.3,82.1) rotate(-90)">-50</text>
<rect class="lb" x="139" y="37" width="12" height="58"/>
<path class="lt" d="M139,43.3h14.5M139,50.6h14.5M139,57.9h14.5M139,65.2h14.5M139,72.5h14.5M139,79.8h14.5M139,87.1h14.5"/>
<text class="lg" x="155.5" y="46.2">400</text><text class="lg" x="155.5" y="53.5">300</text><text class="lg" x="155.5" y="60.8">200</text><text class="lg" x="155.5" y="68.1">100</text><text class="lg" x="155.5" y="75.4">0</text><text class="lg" x="155.5" y="82.7">-100</text><text class="lg" x="155.5" y="90">-200</text>
</g>

<g transform="translate(504,360)">
<text class="t" x="71" y="31.5">bio_6</text>
<g transform="translate(12,37) scale(.32778,.32222) translate(180,90) scale(1,-1)">
<use href="#land" fill="url(#g6)"/>
<g clip-path="url(#cl)"><g filter="url(#bl)">
<ellipse cx="110" cy="62" rx="30" ry="10" fill="#3b528b" opacity=".8"/><ellipse cx="88" cy="33" rx="10" ry="5" fill="#2c728e"/><ellipse cx="-42" cy="74" rx="13" ry="9" fill="#33638d"/>
</g></g></g>
<rect class="bx" x="12" y="37" width="118" height="58"/>
<path class="tk" d="M21.8,95v3M38.2,95v3M54.6,95v3M71,95v3M87.4,95v3M103.8,95v3M120.2,95v3M12,49.9h-3M12,66h-3M12,82.1h-3"/>
<text class="ax" x="21.8" y="107.2">-150</text><text class="ax" x="54.6" y="107.2">-50</text><text class="ax" x="71" y="107.2">0</text><text class="ax" x="87.4" y="107.2">50</text><text class="ax" x="103.8" y="107.2">100</text>
<text class="ax" transform="translate(7.3,49.9) rotate(-90)">50</text><text class="ax" transform="translate(7.3,66) rotate(-90)">0</text><text class="ax" transform="translate(7.3,82.1) rotate(-90)">-50</text>
<rect class="lb" x="139" y="37" width="12" height="58"/>
<path class="lt" d="M139,40h14.5M139,52.7h14.5M139,65.4h14.5M139,78.1h14.5M139,90.8h14.5"/>
<text class="lg" x="155.5" y="42.9">200</text><text class="lg" x="155.5" y="55.6">0</text><text class="lg" x="155.5" y="68.3">-200</text><text class="lg" x="155.5" y="81">-400</text><text class="lg" x="155.5" y="93.7">-600</text>
</g>
</svg>
</body></html>
